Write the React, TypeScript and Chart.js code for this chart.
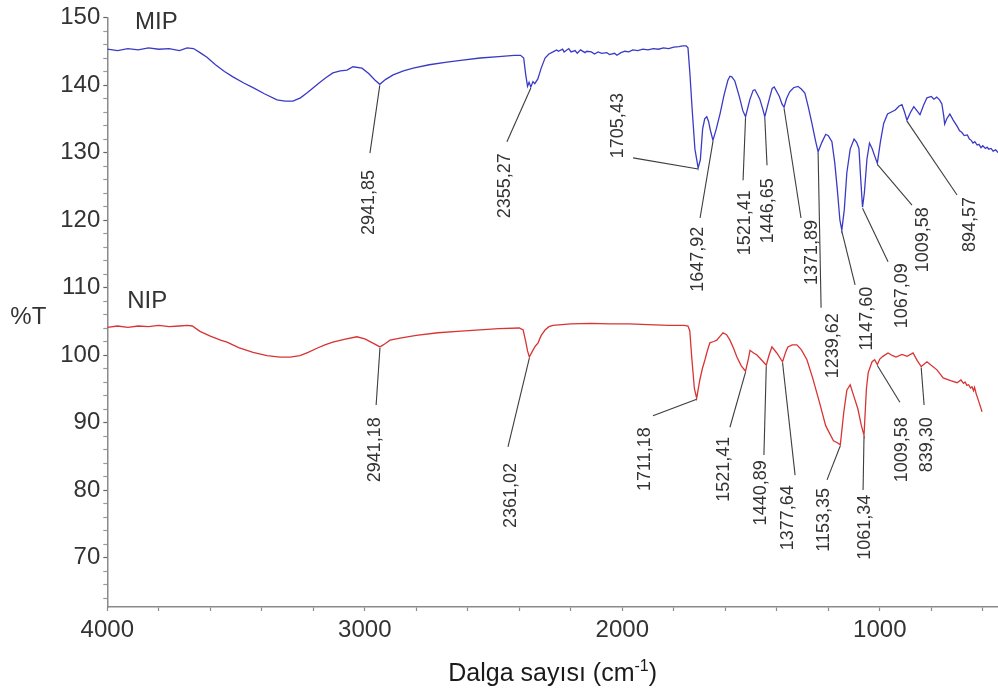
import { useEffect, useRef } from 'react';
import { Chart, registerables } from 'chart.js';

Chart.register(...registerables);

// FTIR spectra: [wavenumber (cm-1), %T]
const mipSpectrum: [number, number][] = [
  [4000, 145.3], [3960, 145.1], [3920, 145.4], [3880, 145.2], [3840, 145.5], [3800, 145.3],
  [3760, 145.4], [3720, 145.1], [3690, 145.5], [3665, 145.4], [3640, 144.8], [3613, 144.1],
  [3580, 143.0], [3545, 142.0], [3512, 141.2], [3470, 140.3], [3434, 139.6], [3390, 138.7],
  [3341, 137.8], [3310, 137.6], [3279, 137.6], [3250, 138.1], [3225, 138.8], [3200, 139.6],
  [3174, 140.4], [3150, 141.1], [3124, 141.8], [3095, 142.1], [3069, 142.2], [3046, 142.7],
  [3011, 142.5], [2985, 141.7], [2960, 140.7], [2941.85, 140.1], [2920, 140.8], [2890, 141.5],
  [2850, 142.1], [2812, 142.5], [2750, 143.0], [2681, 143.4], [2620, 143.7], [2552, 144.0],
  [2480, 144.2], [2420, 144.4], [2395, 144.4], [2383, 144.0], [2375, 141.5], [2368, 139.8],
  [2362, 140.4], [2355.27, 139.7], [2347, 140.5], [2340, 140.2], [2328, 140.9], [2315, 142.5],
  [2300, 144.0], [2285, 144.6], [2269, 144.9], [2255, 145.2], [2248, 145.0], [2232, 145.3],
  [2226, 144.9], [2208, 145.4], [2199, 144.9], [2183, 145.1], [2175, 144.7], [2162, 145.2],
  [2145, 144.8], [2138, 145.0], [2120, 144.9], [2108, 144.6], [2094, 144.9], [2080, 144.7],
  [2060, 144.8], [2050, 144.5], [2030, 144.7], [2021, 144.4], [2005, 144.8], [1990, 145.0],
  [1975, 144.9], [1959, 145.2], [1940, 145.1], [1920, 145.3], [1900, 145.2], [1880, 145.4],
  [1860, 145.3], [1840, 145.5], [1820, 145.4], [1800, 145.6], [1780, 145.7], [1765, 145.8],
  [1752, 145.8], [1745, 145.5], [1738, 142.0], [1728, 136.0], [1718, 130.5],
  [1705.43, 127.7], [1697, 128.9], [1688, 133.5], [1680, 135.0], [1672, 135.3], [1665, 134.6],
  [1658, 133.3], [1647.92, 131.8], [1635, 133.5], [1620, 135.8], [1605, 138.5], [1590, 140.7],
  [1582, 141.3], [1575, 141.2], [1563, 140.6], [1545, 138.2], [1532, 136.2], [1521.41, 135.3],
  [1505, 137.8], [1492, 139.2], [1485, 139.3], [1475, 138.6], [1466, 137.9], [1455, 136.5],
  [1446.65, 135.3], [1430, 137.8], [1418, 139.5], [1410, 139.7], [1400, 139.0], [1390, 138.3],
  [1380, 137.2], [1371.89, 136.7], [1362, 138.0], [1350, 139.0], [1335, 139.6], [1318, 139.8],
  [1305, 139.4], [1291, 138.8], [1278, 136.8], [1264, 134.4], [1250, 131.8], [1239.62, 130.1],
  [1225, 131.5], [1210, 132.7], [1200, 132.5], [1186, 131.6], [1175, 128.5], [1165, 124.5],
  [1155, 120.0], [1147.6, 118.5], [1138, 121.5], [1128, 127.0], [1115, 130.5], [1100, 132.0],
  [1090, 131.5], [1081, 130.6], [1074, 126.0], [1067.09, 121.9], [1060, 124.0], [1050, 129.0],
  [1040, 131.4], [1030, 130.6], [1020, 129.5], [1009.58, 128.4], [998, 131.5], [985, 134.3],
  [970, 135.7], [955, 136.0], [940, 136.3], [925, 136.9], [914, 137.1], [904, 136.0],
  [894.57, 134.8], [880, 136.0], [868, 136.8], [856, 136.2], [844, 135.6], [830, 137.0],
  [817, 138.1], [800, 138.3], [790, 137.9], [779, 138.2], [768, 137.8], [759, 137.2],
  [752, 135.5], [748, 134.2], [740, 135.0], [728, 135.7], [715, 134.8], [700, 133.9],
  [690, 133.2], [682, 133.0], [672, 132.5], [660, 132.6], [652, 132.0], [645, 131.8],
  [638, 131.4], [631, 131.6], [622, 131.1], [615, 131.2], [607, 130.7], [600, 131.0],
  [590, 130.6], [583, 130.8], [577, 130.5], [568, 130.6], [560, 130.2], [550, 130.4], [541, 130.0],
];

const nipSpectrum: [number, number][] = [
  [4000, 104.1], [3960, 104.3], [3920, 104.1], [3880, 104.3], [3840, 104.2], [3800, 104.4],
  [3760, 104.2], [3720, 104.3], [3690, 104.4], [3670, 104.3], [3640, 103.5], [3600, 102.8],
  [3560, 102.2], [3535, 101.9], [3490, 101.1], [3434, 100.4], [3380, 99.9], [3329, 99.7],
  [3290, 99.7], [3252, 99.9], [3220, 100.4], [3186, 101.0], [3155, 101.5], [3124, 101.9],
  [3080, 102.3], [3031, 102.7], [3000, 102.4], [2970, 101.8], [2941.18, 101.2], [2920, 101.7],
  [2902, 102.2], [2863, 102.5], [2800, 102.9], [2716, 103.3], [2640, 103.5], [2568, 103.7],
  [2480, 103.9], [2400, 104.0], [2385, 103.7], [2375, 102.0], [2368, 100.6], [2361.02, 99.7],
  [2350, 100.5], [2338, 101.3], [2327, 101.8], [2315, 102.9], [2300, 103.7], [2285, 104.2],
  [2269, 104.4], [2200, 104.6], [2121, 104.7], [2050, 104.6], [1974, 104.6], [1900, 104.5],
  [1822, 104.4], [1760, 104.4], [1745, 104.3], [1738, 103.6], [1730, 99.5], [1720, 95.0],
  [1711.18, 93.6], [1699, 96.3], [1689, 98.0], [1679, 99.3], [1670, 100.6], [1660, 101.8],
  [1645, 102.0], [1633, 102.2], [1620, 102.8], [1609, 103.3], [1595, 103.0], [1582, 102.2],
  [1568, 101.0], [1555, 99.7], [1538, 98.4], [1521.41, 97.6], [1510, 99.5], [1504, 100.7],
  [1490, 100.3], [1477, 100.0], [1460, 99.3], [1440.89, 98.5], [1430, 100.0], [1419, 101.2],
  [1400, 100.3], [1377.64, 99.0], [1365, 100.5], [1357, 101.2], [1340, 101.5], [1322, 101.5],
  [1305, 100.8], [1283, 99.3], [1260, 96.5], [1233, 92.8], [1210, 89.5], [1180, 87.3],
  [1165, 87.0], [1153.35, 86.7], [1140, 91.5], [1128, 94.8], [1115, 95.6], [1100, 93.8],
  [1085, 92.0], [1072, 89.6], [1061.34, 88.1], [1052, 95.0], [1045, 97.4], [1030, 99.0],
  [1020, 99.3], [1009.58, 98.6], [1000, 99.4], [988, 99.8], [968, 100.3], [950, 99.9],
  [937, 99.7], [914, 100.1], [894, 99.8], [871, 100.3], [855, 99.2], [839.3, 98.3],
  [817, 99.0], [798, 98.4], [778, 97.8], [754, 96.6], [725, 96.2], [700, 95.9], [685, 96.3],
  [675, 95.8], [669, 96.0], [662, 95.5], [655, 95.6], [648, 95.1], [642, 95.3], [636, 94.7],
  [632, 95.2], [626, 94.3], [619, 93.5], [613, 92.8], [608, 92.2], [603, 91.6],
];

// Labelled absorption bands
const mipPeaks = [2941.85, 2355.27, 1705.43, 1647.92, 1521.41, 1446.65, 1371.89, 1239.62, 1147.6, 1067.09, 1009.58, 894.57];
const nipPeaks = [2941.18, 2361.02, 1711.18, 1521.41, 1440.89, 1377.64, 1153.35, 1061.34, 1009.58, 839.3];

const xLabelTicks = [4000, 3000, 2000, 1000];
const yLabelTicks = [70, 80, 90, 100, 110, 120, 130, 140, 150];

// Placement of each band note (in axis units): end of the leader line, top end of the text
const mipNoteLayout: { lead: [number, number]; text: [number, number] }[] = [
  { lead: [2980, 129.9], text: [2984, 127.4] },
  { lead: [2448, 131.6], text: [2456, 129.9] },
  { lead: [1958, 129.2], text: [2017, 138.8] },
  { lead: [1698, 120.3], text: [1706, 119.0] },
  { lead: [1531, 125.9], text: [1524, 124.4] },
  { lead: [1438, 128.1], text: [1434, 126.2] },
  { lead: [1306, 120.3], text: [1263, 120.0] },
  { lead: [1228, 107.0], text: [1182, 106.2] },
  { lead: [1096, 110.4], text: [1050, 110.1] },
  { lead: [968, 113.8], text: [914, 113.6] },
  { lead: [875, 122.2], text: [832, 121.9] },
  { lead: [700, 123.7], text: [650, 123.4] },
];

const nipNoteLayout: { lead: [number, number]; text: [number, number] }[] = [
  { lead: [2956, 92.6], text: [2960, 90.8] },
  { lead: [2444, 86.4], text: [2432, 84.0] },
  { lead: [1881, 91.0], text: [1912, 89.3] },
  { lead: [1582, 89.3], text: [1605, 87.9] },
  { lead: [1450, 85.2], text: [1462, 84.4] },
  { lead: [1329, 82.2], text: [1357, 80.7] },
  { lead: [1205, 81.5], text: [1217, 80.3] },
  { lead: [1065, 80.0], text: [1058, 79.3] },
  { lead: [922, 93.0], text: [914, 90.8] },
  { lead: [828, 92.6], text: [817, 90.8] },
];

const seriesNames = [
  { name: 'MIP', at: [3892, 149.3] as [number, number] },
  { name: 'NIP', at: [3923, 107.9] as [number, number] },
];

const FONT = '"Liberation Sans", Arial, Helvetica, sans-serif';

const formatBand = (v: number) => v.toFixed(2).replace('.', ',');

const lookup = (spectrum: [number, number][], w: number) => {
  const hit = spectrum.find((p) => p[0] === w);
  return hit ? hit[1] : NaN;
};

const notesPlugin = {
  id: 'bandNotes',
  afterDatasetsDraw(chart: any) {
    const { ctx, chartArea } = chart;
    const xs = chart.scales.x;
    const ys = chart.scales.y;
    const px = (w: number) => xs.getPixelForValue(w);
    const py = (t: number) => ys.getPixelForValue(t);

    ctx.save();
    const groups = [
      { spectrum: mipSpectrum, peaks: mipPeaks, layout: mipNoteLayout },
      { spectrum: nipSpectrum, peaks: nipPeaks, layout: nipNoteLayout },
    ];
    for (const g of groups) {
      g.peaks.forEach((w, i) => {
        const t = lookup(g.spectrum, w);
        const lay = g.layout[i];
        const x0 = px(w);
        const y0 = py(t) + 1;
        ctx.beginPath();
        ctx.strokeStyle = '#3d3d3d';
        ctx.lineWidth = 1.1;
        ctx.moveTo(x0, y0);
        ctx.lineTo(px(lay.lead[0]), py(lay.lead[1]));
        ctx.stroke();

        ctx.save();
        ctx.translate(px(lay.text[0]), py(lay.text[1]));
        ctx.rotate(-Math.PI / 2);
        ctx.font = `18px ${FONT}`;
        ctx.fillStyle = '#333';
        ctx.textAlign = 'right';
        ctx.textBaseline = 'middle';
        ctx.fillText(formatBand(w), 0, 0);
        ctx.restore();
      });
    }

    // Series names
    ctx.font = `24px ${FONT}`;
    ctx.fillStyle = '#333';
    ctx.textAlign = 'left';
    ctx.textBaseline = 'middle';
    for (const s of seriesNames) {
      ctx.fillText(s.name, px(s.at[0]), py(s.at[1]));
    }

    // y-axis title, horizontal
    ctx.font = `24px ${FONT}`;
    ctx.textAlign = 'center';
    ctx.fillText('%T', chartArea.left - 79, py(105.6));

    // x-axis title with superscript
    const cx = (chartArea.left + chartArea.right) / 2;
    const base = chartArea.bottom + 74;
    const mainFont = `25px ${FONT}`;
    const supFont = `16px ${FONT}`;
    ctx.textBaseline = 'alphabetic';
    ctx.textAlign = 'left';
    ctx.fillStyle = '#1a1a1a';
    ctx.font = mainFont;
    const partA = 'Dalga sayısı (cm';
    const partC = ')';
    const wA = ctx.measureText(partA).width;
    const wC = ctx.measureText(partC).width;
    ctx.font = supFont;
    const wB = ctx.measureText('-1').width;
    let x = cx - (wA + wB + wC) / 2;
    ctx.font = mainFont;
    ctx.fillText(partA, x, base);
    x += wA;
    ctx.font = supFont;
    ctx.fillText('-1', x, base - 10);
    x += wB;
    ctx.font = mainFont;
    ctx.fillText(partC, x, base);
    ctx.restore();
  },
};

export default function App() {
  const canvasRef = useRef<HTMLCanvasElement | null>(null);

  useEffect(() => {
    const canvas = canvasRef.current;
    if (!canvas) return;

    const xTickValues: number[] = [];
    for (let v = 4000; v >= 600; v -= 200) xTickValues.push(v);
    const yTickValues: number[] = [];
    for (let v = 64; v <= 150; v += 2) yTickValues.push(v);

    const axisColor = '#8a8a8a';

    const chart = new Chart(canvas, {
      type: 'line',
      data: {
        datasets: [
          {
            label: 'MIP',
            data: mipSpectrum.map(([w, t]) => ({ x: w, y: t })),
            borderColor: '#3a3ac6',
            borderWidth: 1.3,
            pointRadius: 0,
            tension: 0,
            fill: false,
          },
          {
            label: 'NIP',
            data: nipSpectrum.map(([w, t]) => ({ x: w, y: t })),
            borderColor: '#d83434',
            borderWidth: 1.3,
            pointRadius: 0,
            tension: 0,
            fill: false,
          },
        ],
      },
      options: {
        animation: false,
        responsive: true,
        maintainAspectRatio: false,
        devicePixelRatio: 1,
        layout: { padding: { top: 17.5, right: 0, left: 0, bottom: 0 } },
        plugins: {
          legend: { display: false },
          tooltip: { enabled: false },
        },
        events: [],
        scales: {
          x: {
            type: 'linear',
            reverse: true,
            min: 541,
            max: 4000,
            afterBuildTicks: (scale: any) => {
              scale.ticks = xTickValues.map((value) => ({ value }));
            },
            afterFit: (scale: any) => {
              scale.height = 86;
            },
            ticks: {
              autoSkip: false,
              maxRotation: 0,
              padding: 5,
              color: '#333',
              font: { family: FONT, size: 24 },
              callback: (value: any) => (xLabelTicks.includes(Number(value)) ? String(value) : ''),
            },
            grid: {
              drawOnChartArea: false,
              drawTicks: true,
              tickLength: 4,
              tickColor: axisColor,
              tickWidth: 1.2,
            },
            border: { display: true, color: axisColor, width: 1.5 },
          },
          y: {
            type: 'linear',
            min: 62.67,
            max: 150,
            afterBuildTicks: (scale: any) => {
              scale.ticks = yTickValues.map((value) => ({ value }));
            },
            afterFit: (scale: any) => {
              scale.width = 107.3;
            },
            ticks: {
              autoSkip: false,
              padding: 3,
              color: '#333',
              font: { family: FONT, size: 24 },
              callback: (value: any) => (yLabelTicks.includes(Number(value)) ? String(value) : ''),
            },
            grid: {
              drawOnChartArea: false,
              drawTicks: true,
              tickLength: 4,
              tickColor: (ctx: any) =>
                ctx.tick && yLabelTicks.includes(ctx.tick.value) ? '#666' : '#9a9a9a',
              tickWidth: 1.2,
            },
            border: { display: true, color: axisColor, width: 1.5 },
          },
        },
      },
      plugins: [notesPlugin],
    } as any);

    return () => {
      chart.destroy();
    };
  }, []);

  return (
    <div
      style={{
        position: 'fixed',
        left: 0,
        top: 0,
        width: 998,
        height: 693,
        background: '#fff',
      }}
    >
      <canvas ref={canvasRef} />
    </div>
  );
}
